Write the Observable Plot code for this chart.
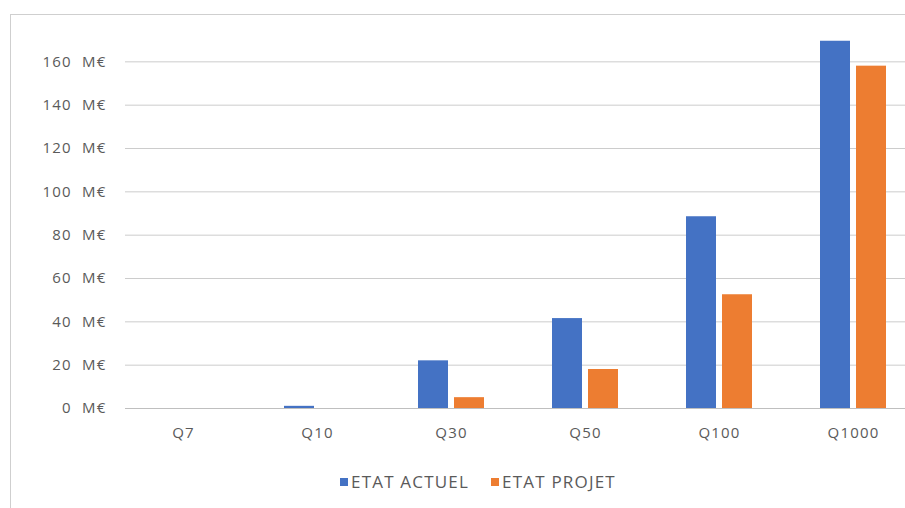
<!DOCTYPE html>
<html>
<head>
<meta charset="utf-8">
<script src="https://cdn.jsdelivr.net/npm/d3@7"></script>
<script src="https://cdn.jsdelivr.net/npm/@observablehq/plot@0.6"></script>
<style>
  body { margin: 0; background: #fff; font-family: "Open Sans", "Liberation Sans", sans-serif; }
  #frame { position: absolute; left: 10px; top: 14px; width: 895px; height: 494px;
           border-left: 1px solid #cfcfcf; border-top: 1px solid #cfcfcf; }
  #chart { position: absolute; left: 0; top: 0; }
  #legend { position: absolute; top: 470px; left: 340px; white-space: nowrap;
            font-size: 17px; color: #5a5a5a; letter-spacing: 1.2px; }
  #legend span.sw { display: inline-block; width: 8px; height: 8px; margin-right: 3px; vertical-align: 2px; }
  #legend span.item { margin-right: 22px; }
  svg text { letter-spacing: 1.2px; }
</style>
</head>
<body>
<div id="frame"></div>
<div id="chart"></div>
<div id="legend"></div>
<script>
const categories = ["Q7", "Q10", "Q30", "Q50", "Q100", "Q1000"];
const etatActuel = [0, 1, 22, 41.5, 88.5, 169.5];
const etatProjet = [0, 0, 5, 18, 52.5, 158];
const series = ["ETAT ACTUEL", "ETAT PROJET"];
const colors = ["#4472C4", "#ED7D31"];
const yTicks = [0, 20, 40, 60, 80, 100, 120, 140, 160];

const actuel = categories.map((c, i) => ({category: c, value: etatActuel[i]}));
const projet = categories.map((c, i) => ({category: c, value: etatProjet[i]}));

const plot = Plot.plot({
  width: 905,
  height: 460,
  marginLeft: 125,
  marginRight: 0,
  marginTop: 18,
  marginBottom: 52,
  style: {fontFamily: "'Open Sans', 'Liberation Sans', sans-serif", fontSize: "15px", color: "#5a5a5a", background: "transparent"},
  x: {domain: categories, range: [115, 920], padding: 0, label: null},
  y: {domain: [0, 180], label: null},
  marks: [
    Plot.gridY(yTicks, {stroke: "#cccccc", strokeOpacity: 1}),
    Plot.axisY(yTicks, {tickSize: 0, tickPadding: 19, tickFormat: d => d + "\u00a0\u00a0M€", fontSize: 15, fill: "#5a5a5a"}),
    Plot.axisX({tickSize: 0, tickPadding: 19, fontSize: 15, fill: "#5a5a5a"}),
    Plot.barY(actuel, {x: "category", y: "value", fill: colors[0], insetLeft: 34, insetRight: 70}),
    Plot.barY(projet, {x: "category", y: "value", fill: colors[1], insetLeft: 70, insetRight: 34}),
    Plot.ruleY([0], {stroke: "#bfbfbf"})
  ]
});
document.getElementById("chart").appendChild(plot);

const legend = document.getElementById("legend");
series.forEach((s, i) => {
  const item = document.createElement("span");
  item.className = "item";
  const sw = document.createElement("span");
  sw.className = "sw";
  sw.style.background = colors[i];
  item.appendChild(sw);
  item.appendChild(document.createTextNode(s));
  legend.appendChild(item);
});
</script>
</body>
</html>
